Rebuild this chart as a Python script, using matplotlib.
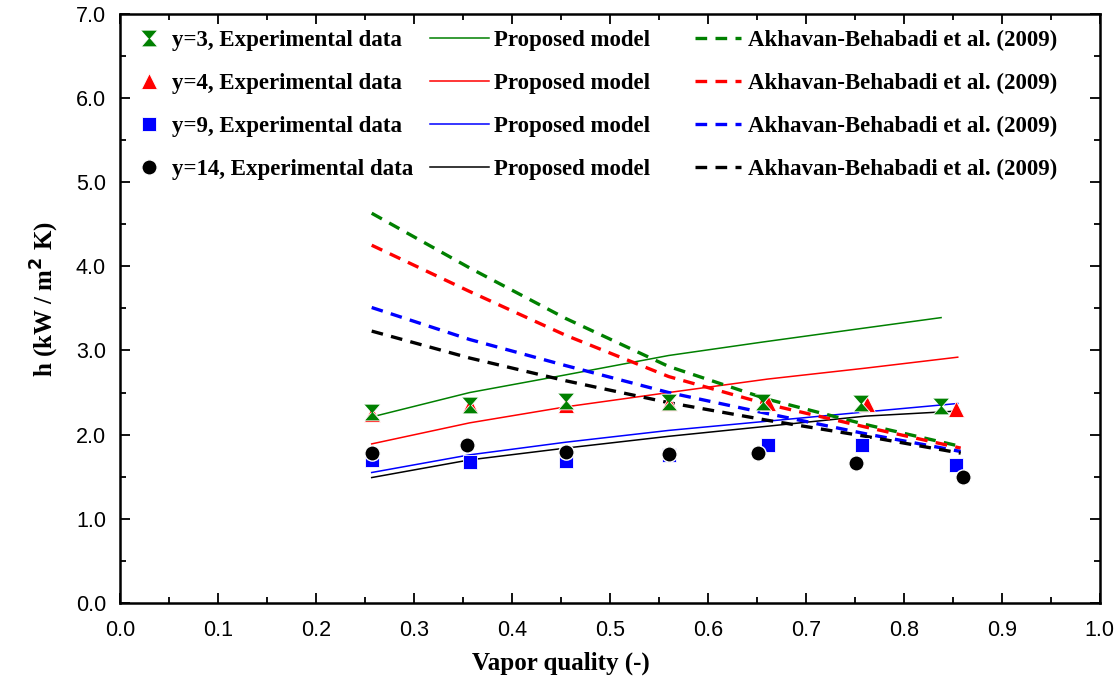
import numpy as np
import matplotlib.pyplot as plt
from matplotlib.ticker import MultipleLocator, FormatStrFormatter

# Experimental data (vapor quality, heat transfer coefficient)
x_y3 = [0.257, 0.357, 0.455, 0.56, 0.656, 0.756, 0.838]
h_y3 = [2.27, 2.35, 2.40, 2.39, 2.39, 2.38, 2.34]
x_y4 = [0.257, 0.357, 0.455, 0.56, 0.661, 0.762, 0.853]
h_y4 = [2.24, 2.35, 2.35, 2.37, 2.38, 2.36, 2.31]
x_y9 = [0.257, 0.357, 0.455, 0.56, 0.661, 0.757, 0.853]
h_y9 = [1.70, 1.67, 1.69, 1.76, 1.88, 1.88, 1.64]
x_y14 = [0.257, 0.354, 0.455, 0.56, 0.651, 0.751, 0.86]
h_y14 = [1.78, 1.88, 1.79, 1.77, 1.78, 1.66, 1.50]

# Proposed model
xm_y3 = [0.257, 0.357, 0.455, 0.56, 0.656, 0.756, 0.838]
hm_y3 = [2.21, 2.50, 2.71, 2.94, 3.10, 3.26, 3.39]
xm = [0.257, 0.357, 0.455, 0.56, 0.661, 0.761, 0.855]
hm_y4 = [1.89, 2.14, 2.33, 2.50, 2.66, 2.79, 2.92]
hm_y9 = [1.55, 1.76, 1.91, 2.05, 2.16, 2.27, 2.37]
hm_y14 = [1.49, 1.70, 1.84, 1.98, 2.10, 2.22, 2.28]

# Akhavan-Behabadi et al. (2009) correlation
xa = [0.257, 0.357, 0.455, 0.56, 0.661, 0.761, 0.858]
ha_y3 = [4.63, 3.98, 3.38, 2.81, 2.42, 2.12, 1.86]
ha_y4 = [4.25, 3.70, 3.18, 2.69, 2.36, 2.09, 1.84]
ha_y9 = [3.51, 3.13, 2.82, 2.50, 2.25, 2.01, 1.80]
ha_y14 = [3.23, 2.91, 2.64, 2.38, 2.17, 1.98, 1.78]

green, red, blue, black = "#008000", "#ff0000", "#0000ff", "#000000"
hourglass = [(-1, 1), (1, 1), (0.12, 0), (1, -1), (-1, -1), (-0.12, 0)]

serif = ["Liberation Serif", "DejaVu Serif"]
plt.rcParams["font.family"] = ["Liberation Sans", "DejaVu Sans"]

fig = plt.figure(figsize=(11.2, 6.86), dpi=100)
ax = fig.add_axes([0.107, 0.121, 0.875, 0.859])

# models
l3, = ax.plot(xm_y3, hm_y3, color=green, lw=1.1, zorder=2)
l4, = ax.plot(xm, hm_y4, color=red, lw=1.1, zorder=2)
l9, = ax.plot(xm, hm_y9, color=blue, lw=1.1, zorder=2)
l14, = ax.plot(xm, hm_y14, color=black, lw=1.1, zorder=2)

dash = (0, (3.5, 2.5))
d3, = ax.plot(xa, ha_y3, color=green, lw=2.4, ls=dash, zorder=2)
d4, = ax.plot(xa, ha_y4, color=red, lw=2.4, ls=dash, zorder=2)
d9, = ax.plot(xa, ha_y9, color=blue, lw=2.4, ls=dash, zorder=2)
d14, = ax.plot(xa, ha_y14, color=black, lw=2.4, ls=dash, zorder=2)

# experimental points
m4, = ax.plot(x_y4, h_y4, ls="none", marker="^", ms=12, color=red,
              mec="white", mew=0.6, zorder=3)
m3, = ax.plot(x_y3, h_y3, ls="none", marker=hourglass, ms=12, color=green,
              mec="white", mew=0.6, zorder=4)
m9, = ax.plot(x_y9, h_y9, ls="none", marker="s", ms=10, color=blue,
              mec="white", mew=0.6, zorder=5)
m14, = ax.plot(x_y14, h_y14, ls="none", marker="o", ms=11, color=black,
               mec="white", mew=1.0, zorder=6)

ax.set_xlim(0, 1.0)
ax.set_ylim(0, 7.0)
ax.xaxis.set_major_locator(MultipleLocator(0.1))
ax.xaxis.set_minor_locator(MultipleLocator(0.05))
ax.yaxis.set_major_locator(MultipleLocator(1.0))
ax.yaxis.set_minor_locator(MultipleLocator(0.5))
ax.xaxis.set_major_formatter(FormatStrFormatter("%.1f"))
ax.yaxis.set_major_formatter(FormatStrFormatter("%.1f"))
ax.tick_params(which="both", direction="in", top=True, right=True,
               width=1.3, labelsize=15.5, colors="black")
ax.tick_params(which="major", length=7)
ax.tick_params(which="minor", length=4)
ax.tick_params(axis="x", which="major", pad=12)
ax.tick_params(axis="y", which="major", pad=10)
for s in ax.spines.values():
    s.set_linewidth(1.8)

ax.set_xlabel("Vapor quality (-)", family=serif, fontsize=18,
              fontweight="bold")
ax.xaxis.set_label_coords(0.45, -0.083)
ax.set_ylabel(r"h (kW / m$^{\mathbf{2}}$ K)", family=serif, fontsize=18,
              fontweight="bold")
ax.yaxis.set_label_coords(-0.06, 0.515)

legend_font = {"family": serif, "weight": "bold", "size": 16.5}
common = dict(loc="upper left", frameon=False, prop=legend_font,
              labelspacing=0.95, borderpad=0, borderaxespad=0)

leg1 = ax.legend([m3, m4, m9, m14],
                 ["y=3, Experimental data", "y=4, Experimental data",
                  "y=9, Experimental data", "y=14, Experimental data"],
                 bbox_to_anchor=(0.018, 0.972), handlelength=1.0,
                 handletextpad=0.5, **common)
ax.add_artist(leg1)
leg2 = ax.legend([l3, l4, l9, l14], ["Proposed model"] * 4,
                 bbox_to_anchor=(0.316, 0.972), handlelength=2.6,
                 handletextpad=0.2, **common)
ax.add_artist(leg2)
ax.legend([d3, d4, d9, d14], ["Akhavan-Behabadi et al. (2009)"] * 4,
          bbox_to_anchor=(0.587, 0.972), handlelength=2.0,
          handletextpad=0.3, **common)

plt.savefig("out.png", dpi=100)
